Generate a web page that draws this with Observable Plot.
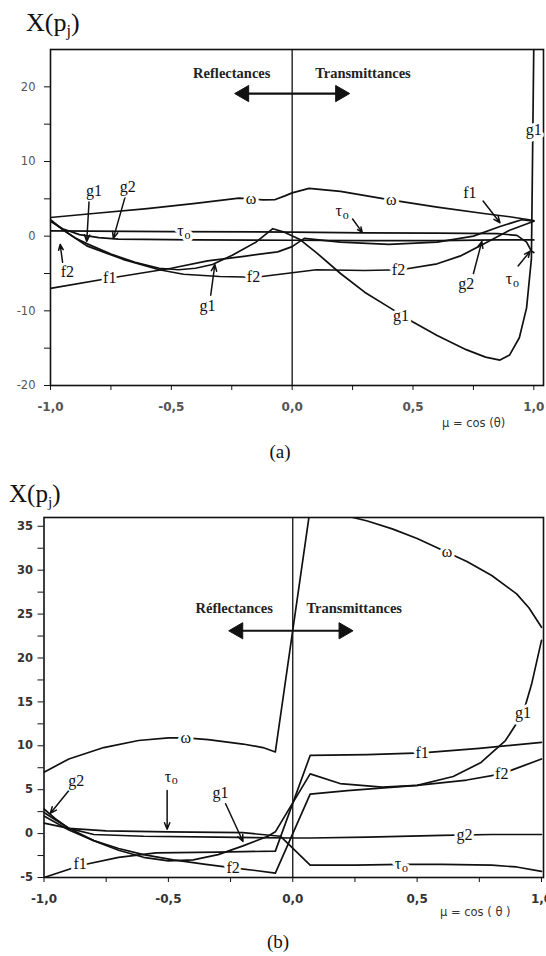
<!DOCTYPE html>
<html>
<head>
<meta charset="utf-8">
<script src="https://cdn.jsdelivr.net/npm/d3@7"></script>
<script src="https://cdn.jsdelivr.net/npm/@observablehq/plot@0.6"></script>
<style>
  body { margin: 0; background: #fff; }
  #wrap { position: relative; width: 546px; height: 956px; overflow: hidden; font-family: "Liberation Serif", serif; }
  .ttl { position: absolute; line-height: 1; color: #111; white-space: nowrap; }
  .ttl sub { font-size: 62%; line-height: 0; vertical-align: -0.32em; }
  .cap { position: absolute; width: 100px; text-align: center; font-size: 19px; line-height: 1; color: #111; }
  .mu { position: absolute; font-family: "DejaVu Sans", sans-serif; font-size: 11.5px; line-height: 1; color: #333; white-space: nowrap; }
  .panel { position: absolute; left: 0; }
</style>
</head>
<body>
<div id="wrap">
  <div class="panel" id="pa" style="top:0px"></div>
  <div class="panel" id="pb" style="top:480px"></div>
  <div class="ttl" style="left:26px;top:10px;font-size:26px">X(p<sub>j</sub>)</div>
  <div class="cap" style="left:230px;top:442px">(a)</div>
  <div class="mu" style="left:442px;top:418px">μ = cos (θ)</div>
  <div class="ttl" style="left:9px;top:481px;font-size:25px">X(p<sub>j</sub>)</div>
  <div class="cap" style="left:228px;top:932px">(b)</div>
  <div class="mu" style="left:440px;top:907px">μ = cos ( θ )</div>
</div>
<script>
// ---------- Panel (a) data: [mu, X] ----------
const a_omega = [[-1,2.5],[-0.8,3.1],[-0.6,3.7],[-0.4,4.4],[-0.22,5.1],[-0.12,4.85],[-0.07,4.9],[-0.03,5.4],[0,5.8],[0.07,6.4],[0.2,6.0],[0.4,4.9],[0.6,3.9],[0.8,3.0],[0.9,2.6],[1.0,2.1]];
const a_tau   = [[-1,0.7],[-0.5,0.6],[0,0.55],[0.3,0.45],[0.6,0.4],[0.85,0.35],[0.93,0.1],[0.97,-0.8],[0.99,-2.0],[1.0,-2.2]];
const a_g1    = [[-1,2.1],[-0.95,0.9],[-0.9,-0.2],[-0.85,-1.0],[-0.75,-2.4],[-0.65,-3.5],[-0.55,-4.3],[-0.47,-4.5],[-0.4,-4.3],[-0.33,-3.8],[-0.25,-2.6],[-0.15,-0.8],[-0.08,1.0],[-0.03,0.5],[0.03,-0.4],[0.1,-2.2],[0.2,-5.0],[0.3,-7.5],[0.4,-9.5],[0.5,-11.5],[0.6,-13.3],[0.72,-15.2],[0.8,-16.2],[0.86,-16.6],[0.9,-15.9],[0.94,-13.6],[0.97,-9.6],[0.99,-3.0],[1.0,26]];
const a_g2    = [[-1,2.0],[-0.95,1.0],[-0.88,0.2],[-0.8,-0.2],[-0.72,-0.4],[-0.4,-0.5],[0,-0.55],[0.3,-0.6],[0.6,-0.6],[0.85,-0.5],[1.0,-0.5]];
const a_f1    = [[-1,-7.0],[-0.75,-5.6],[-0.5,-4.3],[-0.35,-3.3],[-0.2,-2.7],[-0.06,-2.1],[0,-1.4],[0.05,-0.3],[0.2,-0.8],[0.4,-1.1],[0.6,-0.8],[0.75,0.0],[0.86,1.3],[0.95,2.2],[1.0,2.0]];
const a_f2    = [[-1,2.2],[-0.95,0.9],[-0.85,-1.3],[-0.7,-3.1],[-0.55,-4.5],[-0.45,-5.1],[-0.3,-5.4],[-0.15,-5.5],[0,-4.9],[0.1,-4.5],[0.3,-4.6],[0.45,-4.5],[0.6,-3.7],[0.7,-2.6],[0.8,-0.9],[0.9,0.8],[1.0,2.0]];

// ---------- Panel (b) data: [mu, X] ----------
const b_omega = [[-1,7.0],[-0.9,8.5],[-0.76,9.8],[-0.62,10.6],[-0.5,10.9],[-0.43,10.9],[-0.34,10.7],[-0.2,10.2],[-0.12,9.8],[-0.07,9.3],[0.07,37],[0.2,36.3],[0.3,35.6],[0.4,34.7],[0.5,33.6],[0.6,32.3],[0.7,31.0],[0.8,29.4],[0.9,27.3],[0.95,25.7],[1.0,23.5]];
const b_g1    = [[-1,2.4],[-0.95,1.5],[-0.9,0.6],[-0.8,-0.8],[-0.7,-1.9],[-0.6,-2.7],[-0.5,-3.1],[-0.4,-3.0],[-0.3,-2.4],[-0.2,-1.4],[-0.1,-0.3],[-0.07,0.2],[0.07,6.8],[0.19,5.7],[0.36,5.3],[0.5,5.5],[0.645,6.5],[0.757,8.1],[0.855,10.6],[0.926,13.7],[0.96,17],[1.0,22]];
const b_f1    = [[-1,-5.0],[-0.85,-3.6],[-0.7,-2.7],[-0.55,-2.2],[-0.3,-2.1],[-0.07,-2.0],[0.07,8.9],[0.3,9.0],[0.52,9.2],[0.75,9.7],[1.0,10.4]];
const b_f2    = [[-1,2.0],[-0.9,0.4],[-0.8,-0.8],[-0.7,-1.7],[-0.6,-2.4],[-0.48,-3.0],[-0.35,-3.5],[-0.24,-3.9],[-0.15,-4.2],[-0.07,-4.5],[0.07,4.5],[0.22,4.9],[0.5,5.5],[0.7,6.1],[0.84,6.8],[1.0,8.5]];
const b_tau   = [[-1,1.2],[-0.9,0.6],[-0.75,0.3],[-0.5,0.2],[-0.2,0.1],[-0.05,-0.3],[0.07,-3.6],[0.25,-3.6],[0.435,-3.5],[0.6,-3.5],[0.8,-3.6],[0.9,-3.8],[1.0,-4.3]];
const b_g2    = [[-1,2.8],[-0.95,1.6],[-0.9,0.6],[-0.8,-0.1],[-0.6,-0.3],[-0.3,-0.4],[0,-0.5],[0.07,-0.5],[0.3,-0.4],[0.6,-0.2],[0.8,-0.1],[1.0,-0.1]];

// ---------- ticks ----------
const xTicks = [-1,-0.75,-0.5,-0.25,0,0.25,0.5,0.75,1];
const xLabels = ["-1,0","","-0,5","","0,0","","0,5","","1,0"];
const aYTicks = [-20,-15,-10,-5,0,5,10,15,20];
const aYLabels = ["-20","","-10","","0","","10","","20"];
const bYTicks = [-5,-2.5,0,2.5,5,7.5,10,12.5,15,17.5,20,22.5,25,27.5,30,32.5,35];
const bYLabels = ["-5","","0","","5","","10","","15","","20","","25","","30","","35"];

// ---------- annotations (label text; "τ" labels carry a subscript o) ----------
const a_curveLabels = [[-0.17,5.05,"ω"],[0.41,4.9,"ω"],[-0.45,0.65,"τ"],[-0.755,-5.6,"f1"],[-0.16,-5.5,"f2"],[0.44,-4.5,"f2"],[0.45,-10.7,"g1"],[1.0,14.3,"g1"]];
const a_arrowLabels = [[-0.82,6.1,"g1"],[-0.68,6.6,"g2"],[-0.93,-4.8,"f2"],[-0.35,-9.4,"g1"],[0.735,5.8,"f1"],[0.205,3.4,"τ"],[0.72,-6.4,"g2"],[0.91,-5.7,"τ"]];
const a_arrows = [[-0.84,4.9,-0.85,-0.7],[-0.69,5.4,-0.74,-0.3],[-0.95,-3.5,-0.96,-1.1],[-0.337,-7.9,-0.32,-3.8],[0.79,4.7,0.86,1.8],[0.25,2.3,0.29,0.5],[0.75,-5.0,0.785,-0.7],[0.935,-4.0,0.985,-2.0]];
const a_regionL = [[-0.09,21.8,"Reflectances"]];
const a_regionR = [[0.095,21.8,"Transmittances"]];
const a_dblX = [-0.22, 0.22];
const a_dblY = 19.1;

const b_curveLabels = [[-0.43,10.9,"ω"],[0.62,32.1,"ω"],[-0.855,-3.5,"f1"],[0.52,9.2,"f1"],[-0.24,-3.9,"f2"],[0.84,6.8,"f2"],[0.926,13.7,"g1"],[0.69,-0.2,"g2"],[0.435,-3.5,"τ"]];
const b_arrowLabels = [[-0.87,6.0,"g2"],[-0.49,6.5,"τ"],[-0.29,4.6,"g1"]];
const b_arrows = [[-0.9,4.9,-0.975,2.3],[-0.505,4.9,-0.505,0.5],[-0.27,3.4,-0.2,-0.9]];
const b_regionL = [[-0.08,25.7,"Réflectances"]];
const b_regionR = [[0.055,25.7,"Transmittances"]];
const b_dblX = [-0.24, 0.225];
const b_dblY = 23.1;

function labelMarks(data, halo) {
  const base = {x: d => d[0], y: d => d[1], fontFamily: "Liberation Serif", fill: "#111", stroke: "white", strokeWidth: halo};
  const plain = data.filter(d => d[2] !== "τ");
  const tau = data.filter(d => d[2] === "τ");
  return [
    Plot.text(plain, {...base, text: d => d[2], fontSize: 16}),
    Plot.text(tau, {...base, text: () => "τ", fontSize: 16, dx: -3}),
    Plot.text(tau, {...base, text: () => "o", fontSize: 12, dx: 4, dy: 4})
  ];
}

function buildPanel(cfg) {
  const lineOpts = {x: d => d[0], y: d => d[1], stroke: "#111", strokeWidth: 1.7, clip: true};
  const regionOpts = {x: d => d[0], y: d => d[1], text: d => d[2], fontSize: 14.5, fontWeight: "bold", fontFamily: "Liberation Serif", fill: "#222"};
  const [dl, dr] = cfg.dblX;
  const marks = [
    Plot.ruleX([0], {stroke: "#111", strokeWidth: 1.3}),
    ...cfg.series.map(s => Plot.line(s, lineOpts)),
    Plot.frame({stroke: "#111", strokeWidth: 1.6}),
    Plot.axisX({ticks: xTicks, tickFormat: (d, i) => xLabels[i], tickSize: 5, tickPadding: cfg.xPad, fontSize: 12, fontWeight: "bold", fill: cfg.tickFill, stroke: "#111", label: null, fontFamily: "DejaVu Sans"}),
    Plot.axisY({ticks: cfg.yTicks, tickFormat: (d, i) => cfg.yLabels[i], tickSize: 6, tickPadding: cfg.yPad, fontSize: 11.5, fontWeight: cfg.yWeight, fill: cfg.tickFill, stroke: "#111", label: null, fontFamily: "DejaVu Sans"}),
    Plot.text(cfg.regionL, {...regionOpts, textAnchor: "end"}),
    Plot.text(cfg.regionR, {...regionOpts, textAnchor: "start"}),
    // double arrow: shaft plus filled triangular heads
    Plot.link([cfg.dblX], {x1: d => d[0] + 0.03, x2: d => d[1] - 0.03, y1: () => cfg.dblY, y2: () => cfg.dblY, stroke: "#111", strokeWidth: 2.2}),
    Plot.dot([dl], {x: d => d, y: () => cfg.dblY, symbol: "triangle", r: 6, rotate: -90, fill: "#111", stroke: "#111", strokeWidth: 1, dx: 5}),
    Plot.dot([dr], {x: d => d, y: () => cfg.dblY, symbol: "triangle", r: 6, rotate: 90, fill: "#111", stroke: "#111", strokeWidth: 1, dx: -5}),
    Plot.arrow(cfg.arrows, {x1: d => d[0], y1: d => d[1], x2: d => d[2], y2: d => d[3], stroke: "#111", strokeWidth: 1.5, headLength: 7, headAngle: 45}),
    ...labelMarks(cfg.curveLabels, 6),
    ...labelMarks(cfg.arrowLabels, 3)
  ];
  return Plot.plot({
    width: 546, height: 440,
    marginTop: cfg.mt, marginBottom: cfg.mb, marginLeft: cfg.ml, marginRight: cfg.mr,
    x: {domain: cfg.xDomain},
    y: {domain: cfg.yDomain},
    style: {background: "transparent", fontFamily: "DejaVu Sans", overflow: "visible"},
    marks
  });
}

document.getElementById("pa").appendChild(buildPanel({
  series: [a_omega, a_tau, a_g1, a_g2, a_f1, a_f2],
  mt: 49, mb: 55, ml: 50, mr: 3,
  xDomain: [-1, 1.04], yDomain: [-20, 25],
  yTicks: aYTicks, yLabels: aYLabels, tickFill: "#555", yWeight: "normal", xPad: 12, yPad: 9,
  regionL: a_regionL, regionR: a_regionR, dblX: a_dblX, dblY: a_dblY, arrows: a_arrows, curveLabels: a_curveLabels, arrowLabels: a_arrowLabels
}));

document.getElementById("pb").appendChild(buildPanel({
  series: [b_omega, b_g1, b_f1, b_f2, b_tau, b_g2],
  mt: 37, mb: 43, ml: 43.5, mr: 3,
  xDomain: [-1, 1.008], yDomain: [-5, 36],
  yTicks: bYTicks, yLabels: bYLabels, tickFill: "#333", yWeight: "bold", xPad: 12, yPad: 5,
  regionL: b_regionL, regionR: b_regionR, dblX: b_dblX, dblY: b_dblY, arrows: b_arrows, curveLabels: b_curveLabels, arrowLabels: b_arrowLabels
}));
</script>
</body>
</html>
